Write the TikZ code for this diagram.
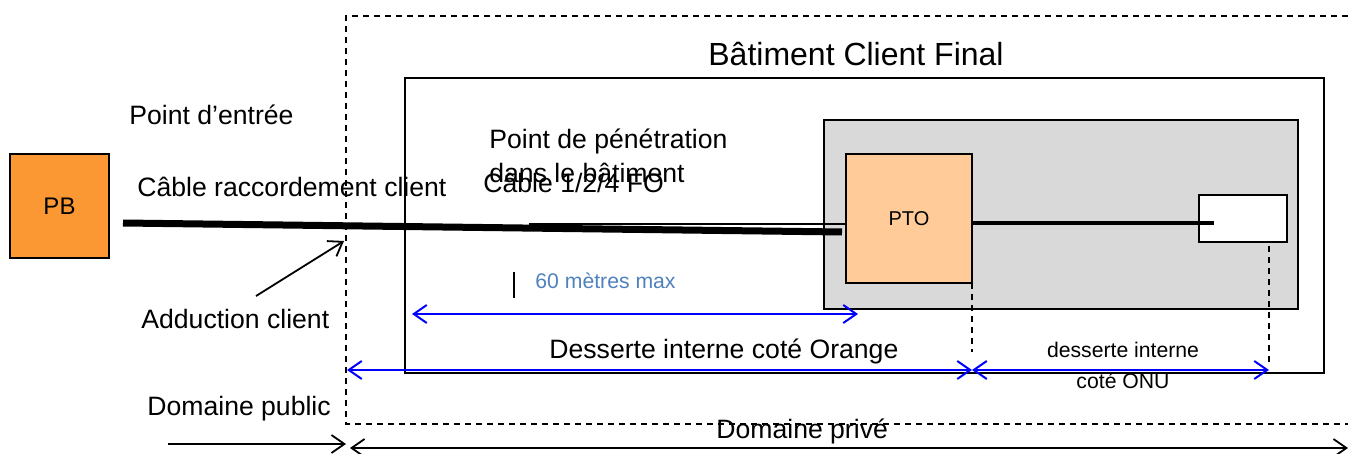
\documentclass[tikz,border=0pt]{standalone}
\usepackage{fontspec}
\setmainfont{Liberation Sans}
\usetikzlibrary{arrows.meta,calc}
\definecolor{pborange}{RGB}{252,152,52}
\definecolor{ptopeach}{RGB}{255,204,153}
\definecolor{boxgray}{RGB}{217,217,217}
\definecolor{textblue}{RGB}{79,129,189}
\definecolor{arrowblue}{RGB}{0,0,255}
\tikzset{
  lbl/.style={inner sep=0pt, font=\fontsize{13.3}{16}\selectfont},
  smalllbl/.style={inner sep=0pt, font=\fontsize{10.6}{13}\selectfont},
  box/.style={draw=black, line width=1pt, inner sep=0pt, outer sep=0pt},
  barb/.style={-{Straight Barb[length=6.5pt,width=9pt]}},
  dbarb/.style={{Straight Barb[length=6.5pt,width=9pt]}-{Straight Barb[length=6.5pt,width=9pt]}},
  bluedim/.style={dbarb, draw=arrowblue, line width=1pt},
  dashline/.style={dash pattern=on 3pt off 2.5pt, line width=0.9pt},
}
\begin{document}
\begin{tikzpicture}[x=0.5pt,y=-0.5pt]
\useasboundingbox (0,0) rectangle (1348,454);
% domaine privé dashed frame
\draw[dashline] (1348,16) -- (346,16) -- (346,424) -- (1348,424);
% building
\node[box, minimum width=459.5pt, minimum height=147.5pt] (bat) at (864.5,225.5) {};
\node[inner sep=0pt, font=\fontsize{16}{19}\selectfont, anchor=base] (title) at (856,66) {Bâtiment Client Final};
% gray inner box
\node[box, fill=boxgray, minimum width=237pt, minimum height=94.5pt] (grey) at (1061,214.5) {};
% PTO
\node[box, fill=ptopeach, minimum width=63pt, minimum height=64.5pt, font=\fontsize{10}{12}\selectfont] (pto) at (909,218.5) {PTO};
% ONU box
\node[box, fill=white, minimum width=44pt, minimum height=23.5pt] (onu) at (1243,218.5) {};
% PB
\node[box, fill=pborange, minimum width=49.5pt, minimum height=52pt, font=\fontsize{12}{14}\selectfont] (pb) at (59.5,206) {PB};
% cables
\coordinate (cabA) at (123,223);
\coordinate (cabB) at (842,232);
\coordinate (foA) at (529,224);
\draw[line width=1.3pt] (foA) -- (foA -| pto.west);
\draw[line width=3.5pt] (cabA) -- (cabB);
\coordinate (ptoout) at (972,223);
\coordinate (onuin) at (1214,223);
\draw[line width=2pt] (ptoout) -- (onuin);
% texts
\node[lbl, anchor=base west] (pe) at (129,125) {Point d’entrée};
\node[lbl, anchor=base west] (crc) at (137,197) {Câble raccordement client};
\node[lbl, anchor=base west] (pp1) at (489,149) {Point de pénétration};
\node[lbl, anchor=base west] (pp2) at (489,183) {dans le bâtiment};
\node[lbl, anchor=base west] (fo) at (483,193) {Câble 1/2/4 FO};
\node[lbl, anchor=base west] (add) at (141,328) {Adduction client};
\node[lbl, anchor=base west] (dpub) at (147,415) {Domaine public};
\node[lbl, anchor=base west] (dpriv) at (716,438) {Domaine privé};
\node[lbl, anchor=base west] (dio) at (549,358) {Desserte interne coté Orange};
\node[smalllbl, anchor=base] (dion1) at (1123,357) {desserte interne};
\node[smalllbl, anchor=base] (dion2) at (1123,388) {coté ONU};
\node[smalllbl, anchor=base west, text=textblue] (sixty) at (535,288) {60 mètres max};
% tick
\coordinate (tickA) at (514,272);
\coordinate (tickB) at (514,298);
\draw[line width=1pt] (tickA) -- (tickB);
% adduction arrow
\coordinate (addS) at (256,296);
\coordinate (addE) at (344,241);
\draw[barb, line width=0.9pt] (addS) -- (addE);
% dashed verticals
\coordinate (dv1) at (972,352);
\draw[dashline] (pto.south east) -- (dv1);
\coordinate (dv2a) at (1269,246);
\coordinate (dv2b) at (1269,366);
\draw[dashline] (dv2a) -- (dv2b);
% blue dimension arrows
\coordinate (m60a) at (412,314);
\coordinate (m60b) at (858,314);
\draw[bluedim] (m60a) -- (m60b);
\coordinate (oa) at (347,370);
\coordinate (ob) at (972,370);
\coordinate (oc) at (1269,370);
\draw[bluedim] (oa) -- (ob);
\draw[bluedim] (ob) -- (oc);
% domaine arrows
\coordinate (dpA) at (168,444);
\coordinate (dpB) at (346,444);
\draw[barb, line width=0.9pt] (dpA) -- (dpB);
\coordinate (dvA) at (350,448);
\coordinate (dvB) at (1348,448);
\draw[dbarb, line width=0.9pt] (dvA) -- (dvB);
\end{tikzpicture}
\end{document}
